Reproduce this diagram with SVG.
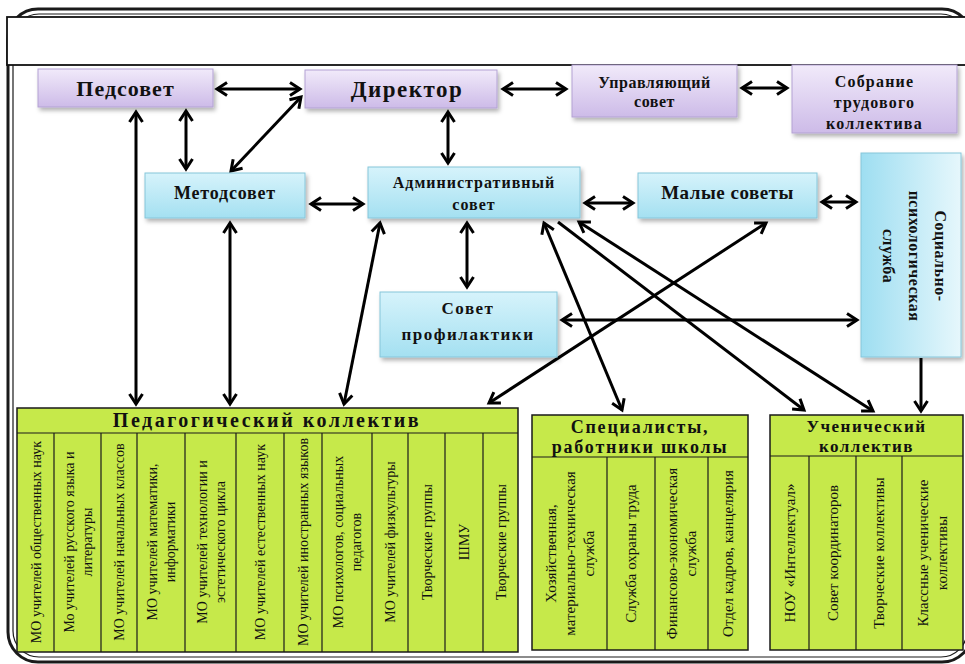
<svg xmlns="http://www.w3.org/2000/svg" width="965" height="664" viewBox="0 0 965 664" font-family="'Liberation Serif', 'Times New Roman', serif">
<style>
text{font-family:'Liberation Serif','Times New Roman',serif;}
.t{fill:#111;}
.b{font-weight:bold;}
.pu{fill:url(#gp);stroke:#b3a2d3;stroke-width:1;filter:url(#sh);}
.cy{fill:url(#gc);stroke:#86c6da;stroke-width:1;filter:url(#sh);}
.gr{fill:#c6e94a;stroke:#1a1a1a;stroke-width:1.5;}
.sep{stroke:#1a1a1a;stroke-width:1.2;}
.c line{stroke:#000;stroke-width:3;fill:none;}
.bi{marker-start:url(#ah);marker-end:url(#ah);}
.one{marker-end:url(#ah);}
.col{font-size:14px;}
.col2{font-size:15px;}
</style>
<defs>
<linearGradient id="gp" x1="0" y1="0" x2="0" y2="1"><stop offset="0" stop-color="#f1eafa"/><stop offset="1" stop-color="#cdbbe8"/></linearGradient>
<linearGradient id="gc" x1="0" y1="0" x2="0" y2="1"><stop offset="0" stop-color="#d6f3fb"/><stop offset="1" stop-color="#a4e0f1"/></linearGradient>
<linearGradient id="gs" x1="0" y1="0" x2="1" y2="0"><stop offset="0" stop-color="#9edef1"/><stop offset="1" stop-color="#e6f7fc"/></linearGradient>
<filter id="sh" x="-10%" y="-10%" width="130%" height="140%"><feDropShadow dx="2" dy="3" stdDeviation="2" flood-color="#000" flood-opacity="0.3"/></filter>
<marker id="ah" viewBox="0 0 16 16" refX="13" refY="8" markerWidth="16" markerHeight="16" markerUnits="userSpaceOnUse" orient="auto-start-reverse">
<path d="M3,1.5 L13,8 L3,14.5" fill="none" stroke="#000" stroke-width="3"/>
</marker>
</defs>
<rect x="0" y="0" width="965" height="664" fill="#fff"/>
<g id="frame">
<rect x="8" y="9" width="964" height="653" rx="30" fill="none" stroke="#1a1a1a" stroke-width="3"/>
<rect x="13" y="14" width="954" height="643" rx="26" fill="none" stroke="#1a1a1a" stroke-width="1.2"/>
<rect x="7" y="17" width="980" height="48" fill="#fff" stroke="#111" stroke-width="1.8"/>
</g>
<g class="c" id="connectors">
<line class="bi" x1="217" y1="89" x2="300" y2="89"/>
<line class="bi" x1="503" y1="89" x2="566" y2="89"/>
<line class="bi" x1="742" y1="88" x2="787" y2="88"/>
<line class="bi" x1="186" y1="111" x2="186" y2="169"/>
<line class="bi" x1="301" y1="97" x2="231" y2="171"/>
<line class="bi" x1="448" y1="112" x2="448" y2="163"/>
<line class="bi" x1="311" y1="204" x2="363" y2="204"/>
<line class="bi" x1="585" y1="203" x2="633" y2="203"/>
<line class="bi" x1="822" y1="202" x2="856" y2="202"/>
<line class="bi" x1="467" y1="223" x2="467" y2="287"/>
<line class="bi" x1="562" y1="320" x2="857" y2="320"/>
<line class="bi" x1="136" y1="112" x2="136" y2="404"/>
<line class="bi" x1="230" y1="223" x2="230" y2="404"/>
<line class="bi" x1="380" y1="223" x2="344" y2="404"/>
<line class="bi" x1="766" y1="223" x2="489" y2="403"/>
<line class="bi" x1="544" y1="223" x2="622" y2="410"/>
<line class="one" x1="558" y1="222" x2="804" y2="410"/>
<line class="bi" x1="579" y1="222" x2="873" y2="411"/>
<line class="one" x1="921" y1="358" x2="921" y2="411"/>
</g>
<g id="pedsovet">
<rect class="pu" x="38" y="69" width="175" height="38"/>
<text class="t b" x="125.5" y="96" font-size="22" letter-spacing="1" text-anchor="middle">Педсовет</text>
</g>
<g id="direktor">
<rect class="pu" x="305" y="70" width="192" height="38"/>
<text class="t b" x="407" y="97" font-size="23" letter-spacing="1.5" text-anchor="middle">Директор</text>
</g>
<g id="upravl">
<rect class="pu" x="572" y="65" width="165" height="52"/>
<text class="t b" font-size="16" letter-spacing="0.5" text-anchor="middle"><tspan x="654.5" y="88">Управляющий</tspan><tspan x="654.5" y="107">совет</tspan></text>
</g>
<g id="sobranie">
<rect class="pu" x="792" y="65" width="165" height="68"/>
<text class="t b" font-size="16" letter-spacing="1.2" text-anchor="middle"><tspan x="874.5" y="87">Собрание</tspan><tspan x="874.5" y="108">трудового</tspan><tspan x="874.5" y="129">коллектива</tspan></text>
</g>
<g id="metodsovet">
<rect class="cy" x="145" y="173" width="160" height="45"/>
<text class="t b" x="225" y="199" font-size="18" letter-spacing="0.8" text-anchor="middle">Методсовет</text>
</g>
<g id="admin">
<rect class="cy" x="368" y="167" width="212" height="51"/>
<text class="t b" font-size="16" letter-spacing="1" text-anchor="middle"><tspan x="474" y="188">Административный</tspan><tspan x="474" y="210">совет</tspan></text>
</g>
<g id="malye">
<rect class="cy" x="638" y="173" width="179" height="45"/>
<text class="t b" x="727.5" y="199" font-size="19" letter-spacing="0.5" text-anchor="middle">Малые советы</text>
</g>
<g id="socpsy">
<rect x="861" y="153" width="100" height="204" fill="url(#gs)" stroke="#86c6da" stroke-width="1" filter="url(#sh)"/>
<text class="t b" font-size="16" letter-spacing="0.5" text-anchor="middle" transform="translate(912,256) rotate(90)"><tspan x="0" y="-22.5">Социально-</tspan><tspan x="0" y="3.5">психологическая</tspan><tspan x="0" y="29.5">служба</tspan></text>
</g>
<g id="profilaktika">
<rect class="cy" x="380" y="292" width="177" height="65"/>
<text class="t b" font-size="17" letter-spacing="1.5" text-anchor="middle"><tspan x="468" y="314">Совет</tspan><tspan x="468" y="340">профилактики</tspan></text>
</g>
<g id="pedkollektiv">
<rect class="gr" x="17" y="408" width="501" height="244"/>
<line class="sep" x1="17" y1="433" x2="518" y2="433"/>
<text class="t b" x="267" y="427" font-size="20" letter-spacing="2.5" text-anchor="middle">Педагогический коллектив</text>
<g class="sep">
<line x1="54" y1="433" x2="54" y2="652"/><line x1="101" y1="433" x2="101" y2="652"/><line x1="137" y1="433" x2="137" y2="652"/><line x1="185" y1="433" x2="185" y2="652"/><line x1="236" y1="433" x2="236" y2="652"/><line x1="284" y1="433" x2="284" y2="652"/><line x1="322" y1="433" x2="322" y2="652"/><line x1="372" y1="433" x2="372" y2="652"/><line x1="408" y1="433" x2="408" y2="652"/><line x1="445" y1="433" x2="445" y2="652"/><line x1="483" y1="433" x2="483" y2="652"/>
</g>
<g class="t col" text-anchor="middle">
<text transform="translate(35.5,542) rotate(-90)" y="5">МО учителей общественных  наук</text>
<text transform="translate(77.5,542) rotate(-90)"><tspan x="0" y="-4">Мо учителей русского языка и</tspan><tspan x="0" y="14">литературы</tspan></text>
<text transform="translate(119,542) rotate(-90)" y="5">МО учителей начальных классов</text>
<text transform="translate(161,542) rotate(-90)"><tspan x="0" y="-4">МО учителей математики,</tspan><tspan x="0" y="14">информатики</tspan></text>
<text transform="translate(210.5,542) rotate(-90)"><tspan x="0" y="-4">МО учителей технологии и</tspan><tspan x="0" y="14">эстетического цикла</tspan></text>
<text transform="translate(260,542) rotate(-90)" y="5">МО учителей естественных  наук</text>
<text transform="translate(303,542) rotate(-90)" y="5">МО учителей иностранных  языков</text>
<text transform="translate(347,542) rotate(-90)"><tspan x="0" y="-4">МО психологов, социальных</tspan><tspan x="0" y="14">педагогов</tspan></text>
<text transform="translate(390,542) rotate(-90)" y="5">МО учителей физкультуры</text>
<text transform="translate(426.5,542) rotate(-90)" y="5">Творческие группы</text>
<text transform="translate(464,542) rotate(-90)" y="5">ШМУ</text>
<text transform="translate(500.5,542) rotate(-90)" y="5">Творческие группы</text>
</g>
</g>
<g id="specialisty">
<rect class="gr" x="532" y="415" width="216" height="235"/>
<line class="sep" x1="532" y1="457" x2="748" y2="457"/>
<text class="t b" font-size="18" letter-spacing="1.8" text-anchor="middle"><tspan x="640" y="433">Специалисты,</tspan><tspan x="640" y="453">работники школы</tspan></text>
<g class="sep"><line x1="607" y1="457" x2="607" y2="650"/><line x1="655" y1="457" x2="655" y2="650"/><line x1="708" y1="457" x2="708" y2="650"/></g>
<g class="t col2" text-anchor="middle">
<text transform="translate(569.5,553.5) rotate(-90)"><tspan x="0" y="-14">Хозяйственная,</tspan><tspan x="0" y="5">материально-техническая</tspan><tspan x="0" y="24">служба</tspan></text>
<text transform="translate(631,553.5) rotate(-90)" y="5">Служба охраны труда</text>
<text transform="translate(681.5,553.5) rotate(-90)"><tspan x="0" y="-4.5">Финансово-экономическая</tspan><tspan x="0" y="14.5">служба</tspan></text>
<text transform="translate(728,553.5) rotate(-90)" y="5">Отдел кадров, канцелярия</text>
</g>
</g>
<g id="uchenicheskiy">
<rect class="gr" x="770" y="415" width="193" height="235"/>
<line class="sep" x1="770" y1="456" x2="963" y2="456"/>
<text class="t b" font-size="17" letter-spacing="1.5" text-anchor="middle"><tspan x="866.5" y="432">Ученический</tspan><tspan x="866.5" y="452">коллектив</tspan></text>
<g class="sep"><line x1="809" y1="456" x2="809" y2="650"/><line x1="856" y1="456" x2="856" y2="650"/><line x1="902" y1="456" x2="902" y2="650"/></g>
<g class="t col2" text-anchor="middle">
<text transform="translate(789.5,553) rotate(-90)" y="5">НОУ «Интеллектуал»</text>
<text transform="translate(832.5,553) rotate(-90)" y="5">Совет координаторов</text>
<text transform="translate(879,553) rotate(-90)" y="5">Творческие коллективы</text>
<text transform="translate(932.5,553) rotate(-90)"><tspan x="0" y="-5">Классные ученические</tspan><tspan x="0" y="14">коллективы</tspan></text>
</g>
</g>
</svg>
